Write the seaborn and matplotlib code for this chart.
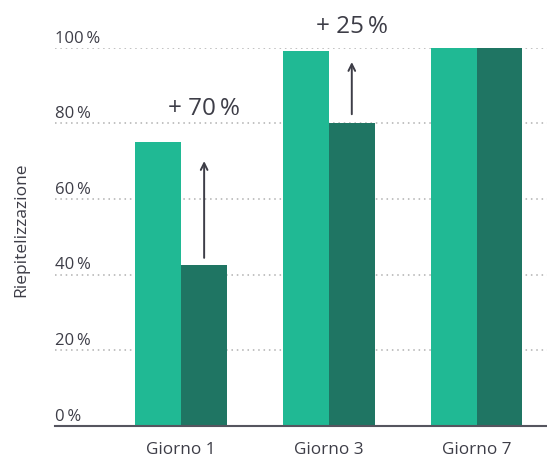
import matplotlib
matplotlib.use("Agg")
import matplotlib.pyplot as plt
import seaborn as sns
import pandas as pd

# Data
days = ["Giorno 1", "Giorno 3", "Giorno 7"]
series_names = ["A", "B"]
series_a = [75, 99, 100]
series_b = [42.5, 80, 100]
gain_labels = ["+ 70\u2009%", "+ 25\u2009%"]
arrow_from = [44.4, 82.4]
arrow_to = [70, 96.2]
label_y = [84.0, 105.8]
yticks = [0, 20, 40, 60, 80, 100]
ylabel = "Riepitelizzazione"

LIGHT = "#20b994"
DARK = "#1f7563"
TEXT = "#3d3d47"

sns.set_theme(style="white")
plt.rcParams["font.family"] = ["Open Sans", "DejaVu Sans"]

df = pd.DataFrame({
    "day": days * 2,
    "series": [series_names[0]] * 3 + [series_names[1]] * 3,
    "value": series_a + series_b,
})

fig = plt.figure(figsize=(5.47, 4.60), dpi=100)
ax = fig.add_axes([55 / 547, 1 - 426.7 / 460, 1 - 55 / 547, (426.7 - 48.7) / 460])

sns.barplot(data=df, x="day", y="value", hue="series", order=days,
            hue_order=series_names, palette=[LIGHT, DARK], width=0.62,
            saturation=1, legend=False, ax=ax, linewidth=0)

ax.set_ylim(0, 100)
ax.set_xlim(-0.855, 2.477)

# Dotted gridlines with labels sitting above them
for t in yticks:
    if t > 0:
        ax.axhline(t, color="#b0b0b0", lw=1.1, ls=(0, (1, 2.5)), zorder=0)
    ax.text(0.0, t + 1.6, f"{t}\u2009%", transform=ax.get_yaxis_transform(),
            ha="left", va="baseline", fontsize=12, color=TEXT, clip_on=False)

ax.set_yticks([])
ax.tick_params(axis="x", length=0, pad=11, labelsize=12.3, labelcolor=TEXT)
ax.set_xlabel("")
ax.set_ylabel(ylabel, fontsize=12.5, color=TEXT)
ax.yaxis.set_label_coords(-26 / 492, (426.7 - 230) / 378)

for side in ["top", "right", "left"]:
    ax.spines[side].set_visible(False)
ax.spines["bottom"].set_color("#55555f")
ax.spines["bottom"].set_linewidth(1.5)

# Arrows and gain labels over the dark bars
dark_bars = ax.containers[1]
for i, label in enumerate(gain_labels):
    bar = dark_bars[i]
    xc = bar.get_x() + bar.get_width() / 2
    ax.annotate("", xy=(xc, arrow_to[i]), xytext=(xc, arrow_from[i]),
                arrowprops=dict(arrowstyle="->", color=TEXT, lw=1.4,
                                mutation_scale=12, shrinkA=0, shrinkB=0),
                annotation_clip=False)
    ax.text(xc, label_y[i], label, ha="center", va="center", fontsize=17.5,
            color=TEXT, clip_on=False)

fig.savefig("out.png", dpi=100)
